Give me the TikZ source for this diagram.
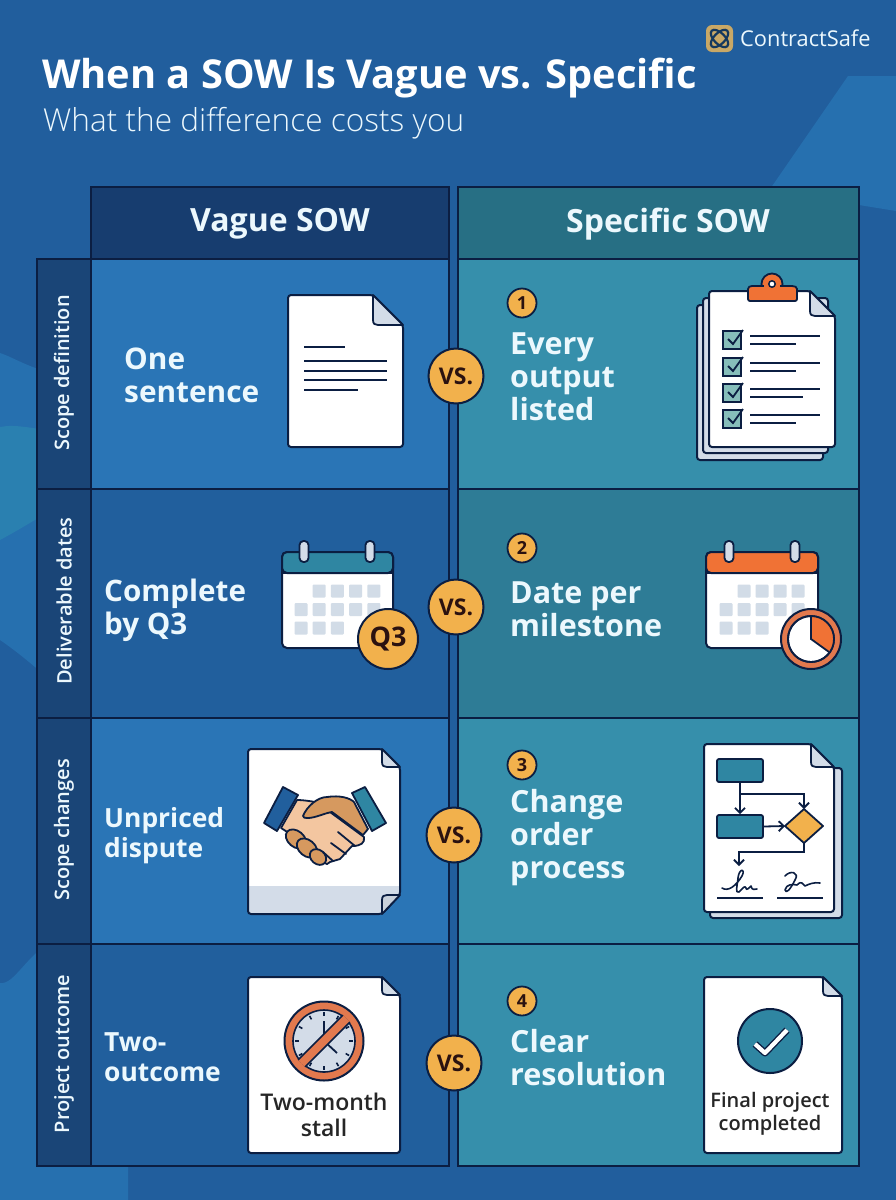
\documentclass[tikz,border=0pt]{standalone}
\usepackage{fontspec}
\setmainfont{Open Sans}
\newfontfamily\lightf{Open Sans Light}
\IfFontExistsTF{Open Sans Semibold}{\newfontfamily\semif{Open Sans Semibold}}{\newfontfamily\semif{Open Sans Bold}}
\usetikzlibrary{arrows.meta,calc}
\definecolor{bgbase}{HTML}{215E9D}
\definecolor{bglight}{HTML}{2670AF}
\definecolor{bgteal}{HTML}{2A80B0}
\definecolor{hvague}{HTML}{173D6F}
\definecolor{hspec}{HTML}{276F84}
\definecolor{vlight}{HTML}{2A75B6}
\definecolor{vdark}{HTML}{215F9D}
\definecolor{slight}{HTML}{368FAB}
\definecolor{sdark}{HTML}{2E7C96}
\definecolor{lblcol}{HTML}{1A4577}
\definecolor{ink}{HTML}{0B1E42}
\definecolor{txtc}{HTML}{ECF8FD}
\definecolor{gold}{HTML}{F2B14C}
\definecolor{logog}{HTML}{C9A866}
\definecolor{orng}{HTML}{F07235}
\definecolor{salmon}{HTML}{E2794E}
\definecolor{fold}{HTML}{D3DCE8}
\definecolor{cellg}{HTML}{D2DCE7}
\definecolor{teal}{HTML}{2F86A2}
\definecolor{checkf}{HTML}{86BEBA}
\definecolor{skinl}{HTML}{F3C6A0}
\definecolor{skind}{HTML}{D6995F}
\definecolor{vsink}{HTML}{2B1210}
\tikzset{
  cellbox/.style={draw=ink,line width=2pt,inner sep=0pt,minimum width=#1},
  bigtxt/.style={anchor=west,align=left,inner sep=0pt,text=txtc,font=\bfseries\fontsize{#1}{33}\selectfont},
  smalltxt/.style={anchor=west,align=left,inner sep=0pt,text=txtc,font=\bfseries\fontsize{#1}{29.5}\selectfont},
  headtxt/.style={inner sep=0pt,text=txtc,font=\bfseries\fontsize{32}{36}\selectfont},
  sidetxt/.style={inner sep=0pt,rotate=90,text=txtc,font=\semif\fontsize{20}{22}\selectfont},
  vsbadge/.style={circle,draw=ink,line width=2pt,fill=gold,minimum size=55pt,inner sep=0pt,text=vsink,font=\bfseries\fontsize{23}{26}\selectfont},
  numbadge/.style={circle,draw=ink,line width=1.8pt,fill=gold,minimum size=29pt,inner sep=0pt,text=vsink,font=\bfseries\fontsize{18}{20}\selectfont},
  pg/.style={draw=ink,line width=2pt,fill=white,rounded corners=3pt},
  pgback/.style={draw=ink,line width=2pt,fill=fold,rounded corners=3pt},
  foldf/.style={draw=ink,line width=1.8pt,fill=fold,line join=round},
  txtline/.style={draw=#1,line width=1.8pt},
  txtline/.default=ink,
  flowbox/.style={draw=ink,line width=1.8pt,fill=teal,rounded corners=2pt,minimum width=46pt,minimum height=23pt,inner sep=0pt},
  flowdiamond/.style={draw=ink,line width=1.8pt,fill=gold,line join=round},
  flowarrow/.style={draw=ink,line width=1.8pt,-{Straight Barb[length=5pt,width=10pt]}},
  ringtab/.style={draw=ink,line width=1.8pt,fill=fold,rounded corners=4pt},
  calbody/.style={draw=ink,line width=2pt,fill=white,rounded corners=5pt},
}
\newcommand{\pagepath}[5]{(#1,#2) -- ({#3-#5},#2) -- (#3,{#2+#5}) -- (#3,#4) -- (#1,#4) -- cycle}
\newcommand{\foldmark}[4]{\draw[foldf] ({#1-#3},#2) -- ({#1-#3},{#2+#4-5}) .. controls ({#1-#3},{#2+#4-1}) and ({#1-#3+2},{#2+#4}) .. ({#1-#3+5},{#2+#4}) -- (#1,{#2+#4}) -- cycle;}
\newcommand{\calcells}[4]{%
  \foreach \cx/\cy in {2/1,3/1,4/1,5/1,1/2,2/2,3/2,4/2,5/2,1/3,2/3,3/3}{
    \fill[cellg,rounded corners=1pt] ({#1+(\cx-1)*#3-6.5},{#2+(\cy-1)*#4-6.5}) rectangle ++(13,13);
  }}
\begin{document}
\begin{tikzpicture}[x=1pt,y=-1pt]
\useasboundingbox (0,0) rectangle (896,1200);
% ---------- background
\fill[bgbase] (0,0) rectangle (896,1200);
\fill[bglight] (848,76) -- (896,76) -- (896,211) -- (859,205) -- (766,195) -- cycle;
\fill[bglight] (0,353) .. controls (15,358) and (28,368) .. (60,375) -- (60,690) .. controls (40,670) and (15,650) .. (0,640) -- cycle;
\fill[bgteal] (0,427) .. controls (15,424) and (30,428) .. (60,432) -- (60,505) .. controls (35,520) and (15,532) .. (0,540) -- cycle;
\fill[bglight] (0,983) .. controls (15,985) and (25,955) .. (60,935) -- (128,935) -- (128,1200) -- (0,1200) -- cycle;
% ---------- table
\node[cellbox=358pt,fill=hvague,minimum height=72pt] (hv) at (269.5,223) {};
\node[cellbox=401pt,fill=hspec,minimum height=72pt] (hs) at (658.5,223) {};
\node[cellbox=358pt,fill=vlight,minimum height=230pt] (v1) at (269.5,374) {};
\node[cellbox=358pt,fill=vdark,minimum height=229pt] (v2) at (269.5,603.5) {};
\node[cellbox=358pt,fill=vlight,minimum height=226pt] (v3) at (269.5,831) {};
\node[cellbox=358pt,fill=vdark,minimum height=222pt] (v4) at (269.5,1055) {};
\node[cellbox=401pt,fill=slight,minimum height=230pt] (s1) at (658.5,374) {};
\node[cellbox=401pt,fill=sdark,minimum height=229pt] (s2) at (658.5,603.5) {};
\node[cellbox=401pt,fill=slight,minimum height=226pt] (s3) at (658.5,831) {};
\node[cellbox=401pt,fill=slight,minimum height=222pt] (s4) at (658.5,1055) {};
\node[cellbox=54pt,fill=lblcol,minimum height=230pt] (l1) at (64,374) {};
\node[cellbox=54pt,fill=lblcol,minimum height=229pt] (l2) at (64,603.5) {};
\node[cellbox=54pt,fill=lblcol,minimum height=226pt] (l3) at (64,831) {};
\node[cellbox=54pt,fill=lblcol,minimum height=222pt] (l4) at (64,1055) {};
% ---------- header texts
\node[anchor=base west,inner sep=0pt,text=white,font=\bfseries\fontsize{39.8}{44}\selectfont] (title) at (42,88) {When a SOW Is Vague vs. Specific};
\node[anchor=base west,inner sep=0pt,text=txtc,font=\lightf\fontsize{31.6}{36}\selectfont] (subtitle) at (43,131) {What the difference costs you};
\node[anchor=west,inner sep=0pt,text=txtc,font=\fontsize{21.8}{24}\selectfont] (brand) at (740,38) {ContractSafe};
\fill[logog,rounded corners=6pt] (706,25) rectangle (733,52);
\draw[bgbase!60!black,line width=2.2pt,rotate around={45:(719.5,38.5)}] (719.5,38.5) ellipse (11 and 5.5);
\draw[bgbase!60!black,line width=2.2pt,rotate around={-45:(719.5,38.5)}] (719.5,38.5) ellipse (11 and 5.5);
\node[headtxt] (hvt) at (280,224) {Vague SOW};
\node[headtxt] (hst) at (668,224) {Specific SOW};
\node[sidetxt] (lt1) at (64,373) {Scope definition};
\node[sidetxt] (lt2) at (64,601) {Deliverable dates};
\node[sidetxt] (lt3) at (64,830) {Scope changes};
\node[sidetxt] (lt4) at (64,1054) {Project outcome};
% ---------- cell texts
\node[bigtxt=29.8] (t11) at (124,375) {One\\sentence};
\node[bigtxt=29.6] (t21) at (104,610) {Complete\\by Q3};
\node[smalltxt=26.4] (t31) at (104,835.5) {Unpriced\\dispute};
\node[smalltxt=26.4] (t41) at (104,1057) {Two-\\outcome};
\node[bigtxt=30.5] (t12) at (510,377) {Every\\output\\listed};
\node[bigtxt=30.5] (t22) at (510,609) {Date per\\milestone};
\node[bigtxt=30.5] (t32) at (510,838) {Change\\order\\process};
\node[bigtxt=30.5] (t42) at (510,1058) {Clear\\resolution};
% ---------- number badges
\node[numbadge] (n1) at (522,303) {1};
\node[numbadge] (n2) at (522,548) {2};
\node[numbadge] (n3) at (522,765) {3};
\node[numbadge] (n4) at (522,1001) {4};
% ---------- vs badges
\node[vsbadge] (vs1) at (456,376) {VS.};
\node[vsbadge] (vs2) at (456,607) {VS.};
\node[vsbadge] (vs3) at (454,835) {VS.};
\node[vsbadge] (vs4) at (454,1063) {VS.};
% ---------- doc 1
\draw[pg] \pagepath{288}{295}{403}{447}{30};
\foldmark{403}{295}{30}{30}
\draw[txtline] (304,347) -- (345,347);
\draw[txtline] (304,361) -- (387,361);
\draw[txtline] (304,371) -- (387,371);
\draw[txtline] (304,380) -- (387,380);
\draw[txtline] (304,390) -- (358,390);
% ---------- clipboard
\draw[pgback] (697,305) rectangle (823,460);
\draw[pgback] (703,298) rectangle (828,453);
\draw[pg] \pagepath{709}{291}{835}{447}{25};
\foldmark{835}{291}{25}{25}
\fill[orng,draw=ink,line width=1.8pt] (772,284) circle (10.5);
\fill[orng,draw=ink,line width=1.8pt,rounded corners=2pt] (748,301) -- (748,291) .. controls (748,287) and (750,286) .. (754,286) -- (790,286) .. controls (795,286) and (797,287) .. (797,291) -- (797,301) -- cycle;
\fill[orng] (764,283) rectangle (780,289);
\fill[white,draw=ink,line width=1.5pt] (772,284) circle (3.2);
\foreach \y/\e in {331/796,358/796,384/803,410/796}{
  \draw[draw=ink,line width=1.8pt,fill=checkf] (723,\y) rectangle (741,{\y+18});
  \draw[draw=ink,line width=1.8pt] (728,{\y+8}) -- (733,{\y+13}) -- (743,{\y-1});
  \draw[txtline] (750,{\y+5}) -- (820,{\y+5});
  \draw[txtline] (750,{\y+13}) -- (\e,{\y+13});
}
% ---------- calendar Q3
\draw[calbody] (282,552) rectangle (393,648);
\fill[teal,draw=ink,line width=2pt,rounded corners=5pt] (282,573) -- (282,552) -- (393,552) -- (393,573) -- cycle;
\draw[draw=ink,line width=2pt] (282,573) -- (393,573);
\draw[ringtab] (299.5,541) rectangle (308.5,562);
\draw[ringtab] (365.5,541) rectangle (374.5,562);
\calcells{301}{591}{18.2}{18.5}
\node[circle,draw=ink,line width=2pt,fill=gold,minimum size=60pt,inner sep=0pt,text=vsink,font=\bfseries\fontsize{27}{30}\selectfont] (q3) at (388,639) {Q3};
% ---------- calendar clock
\draw[calbody] (706,552) rectangle (818,648);
\fill[orng,draw=ink,line width=2pt,rounded corners=5pt] (706,573) -- (706,552) -- (818,552) -- (818,573) -- cycle;
\draw[draw=ink,line width=2pt] (706,573) -- (818,573);
\draw[ringtab] (724.5,541) rectangle (733.5,562);
\draw[ringtab] (790.5,541) rectangle (799.5,562);
\calcells{726}{591}{18}{18.5}
\fill[salmon,draw=ink,line width=2pt] (811,639) circle (30);
\fill[white,draw=ink,line width=1.8pt] (811,639) circle (23);
\fill[orng] (811,639) -- (811,616) arc[start angle=-90,end angle=36,radius=23] -- cycle;
\draw[draw=ink,line width=1.8pt] (811,639) circle (23);
\draw[draw=ink,line width=1.8pt] (811,617) -- (811,639) -- (829,652);
% ---------- handshake document
\newcommand{\hspage}{(248,749) -- (382,749) -- (400,767) -- (400,895) -- (382,914) -- (248,914) -- cycle}
\fill[white,rounded corners=3pt] \hspage;
\begin{scope}
\clip[rounded corners=3pt] \hspage;
\fill[fold] (240,886) rectangle (410,920);
\end{scope}
\draw[draw=ink,line width=2pt,rounded corners=3pt] \hspage;
\draw[foldf,fill=fold!88!gray] (382,914) -- (382,900) .. controls (382,896) and (384,895) .. (387,895) -- (400,895) -- cycle;
\foldmark{400}{749}{18}{18}
\draw[draw=ink,line width=1.8pt,fill=skinl,line join=round] (281,828) -- (297,800) .. controls (305,800) and (315,802) .. (321,803) -- (308,816) -- (330,812) -- (364,837) .. controls (365,843) and (361,846) .. (352,846) -- (340,859) -- (330,862) -- (327,864) -- (316,859) -- (300,840) -- cycle;
\draw[draw=ink,line width=1.8pt,fill=skind,line join=round] (303,816) .. controls (307,806) and (318,797) .. (327,797) .. controls (340,795) and (350,798) .. (354,802) -- (368,829) -- (363,835) -- (332,812) .. controls (325,813) and (315,818) .. (308,818) .. controls (305,818) and (303,818) .. (303,816) -- cycle;
\draw[draw=ink,line width=1.8pt,line cap=round] (338,832) -- (355,846);
\draw[draw=ink,line width=1.8pt,line cap=round] (331,843) -- (346,854);
\draw[draw=ink,line width=1.8pt,line cap=round] (323,852) -- (333,861);
\draw[draw=ink,line width=1.8pt,fill=skind,rotate around={-40:(296,839)}] (296,839) ellipse (11.5 and 8);
\draw[draw=ink,line width=1.8pt,fill=skind,rotate around={-40:(307,848)}] (307,848) ellipse (11.5 and 8);
\draw[draw=ink,line width=1.8pt,fill=skind,rotate around={-40:(318,857)}] (318,857) ellipse (9 and 7);
\draw[draw=ink,line width=1.8pt,fill=vdark,line join=round] (283,787) -- (298,795) -- (277,831) -- (264,823) -- cycle;
\draw[draw=ink,line width=1.8pt,fill=teal,line join=round] (352,793) -- (365,787) -- (386,823) -- (372,831) -- cycle;
% ---------- flowchart document
\draw[pgback] (710,768) rectangle (842,918);
\draw[pg] \pagepath{704}{744}{834}{912}{23};
\foldmark{834}{744}{23}{23}
\node[flowbox] (fa) at (740,770.5) {};
\node[flowbox] (fb) at (740,826.5) {};
\coordinate (fd) at (804,826);
\draw[flowdiamond] (785,826) -- (804,809) -- (823,826) -- (804,843) -- cycle;
\coordinate (fdl) at (785,826);
\coordinate (fdt) at (804,809);
\coordinate (fdb) at (804,843);
\coordinate (fsig) at (739,866);
\draw[flowarrow] (fa.south) -- (fb.north);
\draw[flowarrow] (740,794) -- (804,794) -- (fdt);
\draw[flowarrow] (fb.east) -- (fdl);
\draw[flowarrow] (fdb) -- (804,852) -- (739,852) -- (fsig);
\draw[txtline] (717,898) -- (763,898);
\draw[txtline] (777,898) -- (823,898);
\draw[draw=ink,line width=1.6pt,line cap=round,line join=round] (722,888) .. controls (728,892) and (736,886) .. (742,876) .. controls (746,868) and (739,868) .. (738,878) .. controls (737,888) and (735,893) .. (739,892) .. controls (743,888) and (745,885) .. (746,888) .. controls (746,891) and (749,888) .. (751,886) .. controls (752,891) and (755,889) .. (757,889);
\draw[draw=ink,line width=1.6pt,line cap=round,line join=round] (785,876) .. controls (790,870) and (800,872) .. (795,880) .. controls (790,890) and (786,894) .. (785,890) .. controls (786,884) and (793,884) .. (797,885) .. controls (802,880) and (802,884) .. (805,886) .. controls (809,884) and (814,882) .. (820,883);
% ---------- stall document
\draw[pg] \pagepath{248}{977}{400}{1153}{18};
\foldmark{400}{977}{18}{18}
\fill[salmon,draw=ink,line width=2pt] (324,1041) circle (39.5);
\fill[fold,draw=ink,line width=1.6pt] (324,1041) circle (31);
\foreach \a in {0,30,...,330}{
  \draw[draw=ink,line width=1.6pt] ($(324,1041)+(\a:25)$) -- ($(324,1041)+(\a:29)$);
}
\draw[draw=ink,line width=1.8pt] (324,1021) -- (324,1041) -- (337,1053);
\begin{scope}
\clip (324,1041) circle (32);
\fill[salmon] (294.5,1063.5) -- (348.5,1009.5) -- (355.5,1016.5) -- (301.5,1070.5) -- cycle;
\draw[draw=ink,line width=1.6pt] (294.5,1063.5) -- (348.5,1009.5);
\draw[draw=ink,line width=1.6pt] (301.5,1070.5) -- (355.5,1016.5);
\end{scope}
\node[inner sep=0pt,text=black!85,align=center,font=\semif\fontsize{23}{26}\selectfont] (st) at (324,1115) {Two-month\\stall};
% ---------- final document
\draw[pg] \pagepath{704}{977}{842}{1153}{19};
\foldmark{842}{977}{19}{19}
\fill[teal,draw=ink,line width=2pt] (770,1041) circle (32);
\draw[draw=ink,line width=7pt,line join=round] (755,1044) -- (765,1053) -- (787,1030);
\draw[draw=white,line width=4.2pt,line join=round] (755,1044) -- (765,1053) -- (787,1030);
\node[inner sep=0pt,text=black!85,align=center,font=\semif\fontsize{20}{23}\selectfont] (ft) at (770,1113.5) {Final project\\completed};
\end{tikzpicture}
\end{document}
